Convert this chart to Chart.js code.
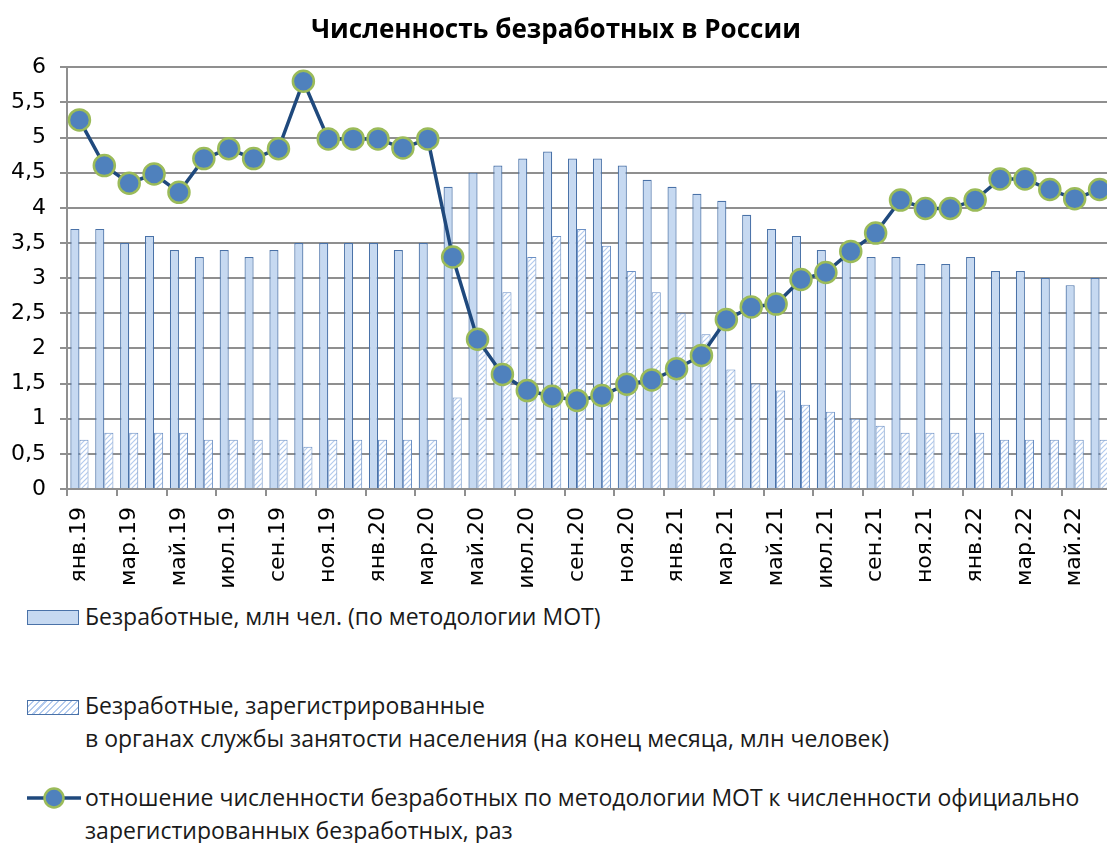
<!DOCTYPE html>
<html lang="ru">
<head>
<meta charset="utf-8">
<title>Численность безработных в России</title>
<script src="https://cdn.jsdelivr.net/npm/chart.js@4.4.0/dist/chart.umd.min.js"></script>
<style>
  body { margin: 0; background: #fff; }
  #wrap { position: relative; width: 1107px; height: 843px; overflow: hidden; }
  #chart { position: absolute; left: 0; top: 0; }
  .ley { position: absolute; font-family: "Open Sans", sans-serif; font-size: 23px; color: #1a1a1a; line-height: 33px; white-space: nowrap; }
  .caja { position: absolute; left: 27px; width: 50px; height: 13px; border: 1.5px solid #4a72a8; }
</style>
</head>
<body>
<div id="wrap">
  <canvas id="chart" width="1112" height="600"></canvas>

  <div class="caja" style="top:610px; background:#c6d9f1;"></div>
  <div class="ley" style="left:85px; top:600px;">Безработные, млн чел. (по методологии МОТ)</div>

  <div class="caja" style="top:700px; background:repeating-linear-gradient(135deg, #ffffff 0 3px, #b3cbee 3px 4.5px);"></div>
  <div class="ley" style="left:85px; top:689px;">Безработные, зарегистрированные<br>в органах службы занятости населения (на конец месяца, млн человек)</div>

  <svg style="position:absolute; left:25px; top:786px;" width="58" height="24">
    <line x1="2" y1="12" x2="56" y2="12" stroke="#1f497d" stroke-width="3.5"/>
    <circle cx="29" cy="12" r="9.5" fill="#4f81bd" stroke="#9bbb59" stroke-width="2.5"/>
  </svg>
  <div class="ley" style="left:85px; top:781px;">отношение численности безработных по методологии МОТ к численности официально<br>зарегистированных безработных, раз</div>
</div>

<script>
// Месяцы (янв.2019 – июн.2022)
var meses = [
  'янв.19','фев.19','мар.19','апр.19','май.19','июн.19','июл.19','авг.19','сен.19','окт.19','ноя.19','дек.19',
  'янв.20','фев.20','мар.20','апр.20','май.20','июн.20','июл.20','авг.20','сен.20','окт.20','ноя.20','дек.20',
  'янв.21','фев.21','мар.21','апр.21','май.21','июн.21','июл.21','авг.21','сен.21','окт.21','ноя.21','дек.21',
  'янв.22','фев.22','мар.22','апр.22','май.22','июн.22'
];

// Безработные по методологии МОТ, млн чел.
var bezrabMot = [
  3.7, 3.7, 3.5, 3.6, 3.4, 3.3, 3.4, 3.3, 3.4, 3.5, 3.5, 3.5,
  3.5, 3.4, 3.5, 4.3, 4.5, 4.6, 4.7, 4.8, 4.7, 4.7, 4.6, 4.4,
  4.3, 4.2, 4.1, 3.9, 3.7, 3.6, 3.4, 3.4, 3.3, 3.3, 3.2, 3.2,
  3.3, 3.1, 3.1, 3.0, 2.9, 3.0
];

// Зарегистрированные безработные, млн чел.
var bezrabReg = [
  0.7, 0.8, 0.8, 0.8, 0.8, 0.7, 0.7, 0.7, 0.7, 0.6, 0.7, 0.7,
  0.7, 0.7, 0.7, 1.3, 2.1, 2.8, 3.3, 3.6, 3.7, 3.46, 3.1, 2.8,
  2.5, 2.2, 1.7, 1.5, 1.4, 1.2, 1.1, 1.0, 0.9, 0.8, 0.8, 0.8,
  0.8, 0.7, 0.7, 0.7, 0.7, 0.7
];

// Отношение МОТ / зарегистрированные, раз
var otnoshenie = [
  5.25, 4.6, 4.35, 4.48, 4.22, 4.7, 4.84, 4.7, 4.84, 5.8, 4.98, 4.98,
  4.98, 4.85, 4.98, 3.3, 2.13, 1.63, 1.4, 1.32, 1.26, 1.33, 1.49, 1.55,
  1.71, 1.9, 2.41, 2.59, 2.63, 2.98, 3.08, 3.38, 3.64, 4.11, 3.99, 3.99,
  4.11, 4.41, 4.41, 4.26, 4.13, 4.26
];

var fuenteTicks = { family: 'DejaVu Sans', size: 22 };
var gris = '#8f8f8f';

// Штриховка для зарегистрированных
function crearTrama() {
  var c = document.createElement('canvas');
  c.width = 5; c.height = 5;
  var g = c.getContext('2d');
  g.fillStyle = '#ffffff';
  g.fillRect(0, 0, 5, 5);
  g.strokeStyle = '#b3cbee';
  g.lineWidth = 1.2;
  g.beginPath();
  g.moveTo(0, 5); g.lineTo(5, 0);
  g.moveTo(-1, 1); g.lineTo(1, -1);
  g.moveTo(4, 6); g.lineTo(6, 4);
  g.stroke();
  return g.createPattern(c, 'repeat');
}

var ctx = document.getElementById('chart').getContext('2d');
var chart = new Chart(ctx, {
  type: 'bar',
  data: {
    labels: meses,
    datasets: [
      {
        type: 'line',
        label: 'отношение численности безработных по методологии МОТ к численности официально зарегистированных безработных, раз',
        data: otnoshenie,
        borderColor: '#1f497d',
        borderWidth: 3.5,
        pointRadius: 10.5,
        pointBackgroundColor: '#4f81bd',
        pointBorderColor: '#9bbb59',
        pointBorderWidth: 2.5,
        tension: 0,
        clip: false,
        order: 0
      },
      {
        label: 'Безработные, млн чел. (по методологии МОТ)',
        data: bezrabMot,
        backgroundColor: '#c6d9f1',
        borderColor: '#4a72a8',
        borderWidth: 1.2,
        order: 1
      },
      {
        label: 'Безработные, зарегистрированные в органах службы занятости населения (на конец месяца, млн человек)',
        data: bezrabReg,
        backgroundColor: crearTrama(),
        borderColor: '#6a8fc4',
        borderWidth: 1,
        order: 2
      }
    ]
  },
  options: {
    responsive: false,
    animation: false,
    datasets: {
      bar: { categoryPercentage: 0.73, barPercentage: 1.0 }
    },
    layout: { padding: 0, autoPadding: false },
    plugins: {
      legend: { display: false },
      tooltip: { enabled: false },
      title: {
        display: true,
        text: 'Численность безработных в России',
        color: '#000',
        font: { family: 'Open Sans', size: 26, weight: 'bold' },
        padding: { top: 15, bottom: 21 }
      }
    },
    scales: {
      x: {
        offset: true,
        afterFit: function (s) {
          s.height = 111;
          s.paddingLeft = 0;
          s.paddingRight = 0;
        },
        grid: {
          offset: true,
          drawOnChartArea: false,
          drawTicks: true,
          tickLength: 7,
          lineWidth: 2,
          color: function (c) { return c.index % 2 === 0 ? gris : 'rgba(0,0,0,0)'; }
        },
        border: { color: gris, width: 2 },
        ticks: {
          autoSkip: false,
          minRotation: 90,
          maxRotation: 90,
          padding: 11,
          color: '#000',
          font: fuenteTicks,
          callback: function (v, i) { return i % 2 === 0 ? meses[i] : ''; }
        }
      },
      y: {
        min: 0,
        max: 6,
        afterFit: function (s) {
          s.width = 67;
          s.paddingTop = 0;
          s.paddingBottom = 0;
        },
        grid: { color: gris, lineWidth: 2, tickLength: 7 },
        border: { color: gris, width: 2 },
        ticks: {
          stepSize: 0.5,
          padding: 14,
          color: '#000',
          font: fuenteTicks,
          callback: function (v) { return String(v).replace('.', ','); }
        }
      }
    }
  }
});
</script>
</body>
</html>
